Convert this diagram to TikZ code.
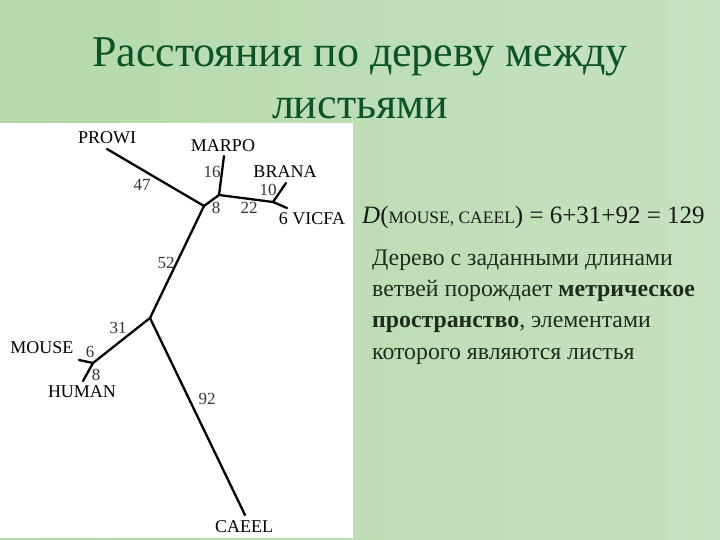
\documentclass[tikz,border=0pt]{standalone}
\usepackage{fontspec}
\setmainfont{Liberation Serif}
\definecolor{bgA}{RGB}{180,217,170}
\definecolor{bgB}{RGB}{198,226,190}
\definecolor{titlegreen}{RGB}{10,84,40}
\definecolor{bodytext}{RGB}{30,44,30}
\begin{document}
\begin{tikzpicture}[x=1pt,y=-1pt,
  branch/.style={line width=2.3pt,line cap=round,line join=round},
  leaf/.style={font=\fontsize{18}{20}\selectfont,inner sep=0pt},
  blen/.style={font=\fontsize{17}{19}\selectfont,inner sep=0pt,text=black!80}]
\useasboundingbox (0,0) rectangle (720,540);
% background
\shade[left color=bgA,right color=bgB] (0,0) rectangle (720,540);
% title
\node[font=\fontsize{44}{52}\selectfont,text=titlegreen,align=center] (title) at (360,78)
  {Расстояния по дереву между\\листьями};
% white panel
\fill[white] (0,123) rectangle (353,538);
% tree coordinates
\coordinate (A) at (204,206);
\coordinate (B) at (219,195);
\coordinate (C) at (273,202);
\coordinate (D) at (150,318);
\coordinate (E) at (93,363);
\coordinate (prowi) at (107,149);
\coordinate (marpo) at (224,156);
\coordinate (brana) at (286,183);
\coordinate (vicfa) at (287,208);
\coordinate (mouse) at (79,360);
\coordinate (human) at (83,381);
\coordinate (caeel) at (245,515);
\draw[branch] (prowi) -- (A);
\draw[branch] (A) -- (B);
\draw[branch] (B) -- (marpo);
\draw[branch] (B) -- (C);
\draw[branch] (C) -- (brana);
\draw[branch] (C) -- (vicfa);
\draw[branch] (A) -- (D);
\draw[branch] (D) -- (E);
\draw[branch] (E) -- (mouse);
\draw[branch] (E) -- (human);
\draw[branch] (D) -- (caeel);
% leaf labels
\node[leaf] (lprowi) at (107,138) {PROWI};
\node[leaf] (lmarpo) at (223,146) {MARPO};
\node[leaf] (lbrana) at (285,172) {BRANA};
\node[leaf] (lvicfa) at (312,219) {6 VICFA};
\node[leaf] (lmouse) at (42,348) {MOUSE};
\node[leaf] (lhuman) at (82,392) {HUMAN};
\node[leaf] (lcaeel) at (244,527) {CAEEL};
% branch lengths
\node[blen] (n47) at (142,185) {47};
\node[blen] (n16) at (212,172) {16};
\node[blen] (n10) at (268,190) {10};
\node[blen] (n8a) at (216,208) {8};
\node[blen] (n22) at (249,208) {22};
\node[blen] (n52) at (166,263) {52};
\node[blen] (n31) at (118,328) {31};
\node[blen] (n6) at (90,352) {6};
\node[blen] (n8b) at (96,375) {8};
\node[blen] (n92) at (207,399) {92};
% right text
\node[anchor=base west,inner sep=0pt,font=\fontsize{25}{28}\selectfont,text=black!90] (dist) at (362,223)
  {\textit{D}({\fontsize{17.5}{20}\selectfont MOUSE, CAEEL}) = 6+31+92 = 129};
\node[anchor=base west,inner sep=0pt,align=left,font=\fontsize{23.8}{31.3}\selectfont,text=bodytext] (para) at (372,359)
  {Дерево с заданными длинами\\ветвей порождает \textbf{метрическое}\\\textbf{пространство}, элементами\\которого являются листья};
\end{tikzpicture}
\end{document}
